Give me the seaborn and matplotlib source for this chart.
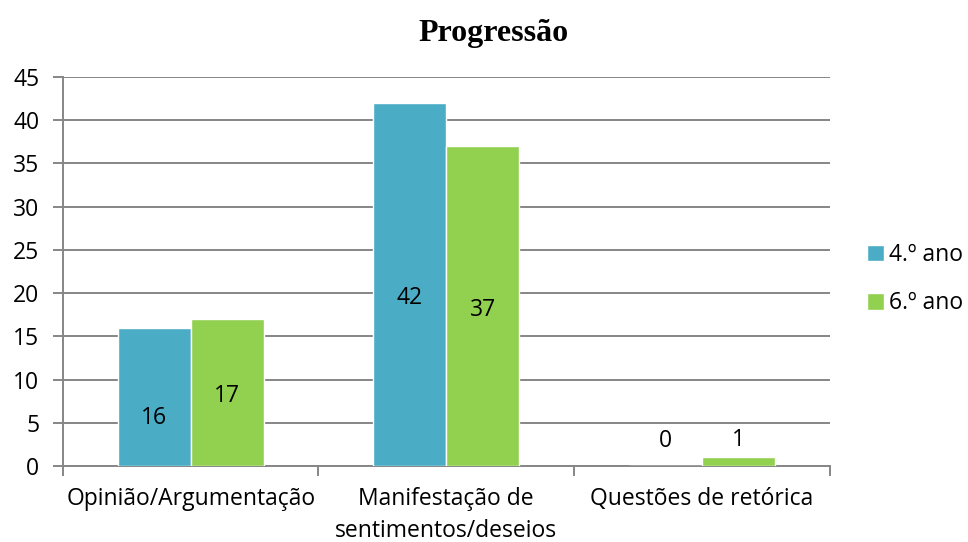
import numpy as np
import pandas as pd
import seaborn as sns
import matplotlib.pyplot as plt

categorias = ["Opinião/Argumentação", "Manifestação de\nsentimentos/deseios", "Questões de retórica"]
ano4 = [16, 42, 0]
ano6 = [17, 37, 1]
series = ["4.º ano", "6.º ano"]
cores = ["#4BACC6", "#92D050"]

df = pd.DataFrame({
    "cat": categorias * 2,
    "valor": ano4 + ano6,
    "serie": [series[0]] * 3 + [series[1]] * 3,
})

sns.set_theme(style="white")
plt.rcParams["font.family"] = ["Open Sans", "DejaVu Sans"]
plt.rcParams["text.color"] = "black"
fs = 16.5

fig = plt.figure(figsize=(9.68, 5.42), dpi=100)
ax = fig.add_axes([0.065, 0.140, 0.792, 0.718])

sns.barplot(data=df, x="cat", y="valor", hue="serie", palette=cores,
            width=0.57, gap=0, saturation=1, ax=ax, zorder=3)

ax.set_ylim(0, 45)
ax.set_xlim(-0.5, 2.5)
ax.set_yticks(np.arange(0, 46, 5))
ax.yaxis.grid(True, color="#868686", linewidth=1.4, zorder=0)
ax.set_axisbelow(True)
ax.set_xlabel("")
ax.set_ylabel("")

for s in ["top", "right"]:
    ax.spines[s].set_visible(False)
for s in ["left", "bottom"]:
    ax.spines[s].set_color("#868686")
    ax.spines[s].set_linewidth(1.4)

ax.set_xticks([-0.5, 0.5, 1.5, 2.5], minor=False)
ax.set_xticklabels([])
ax.set_xticks([0, 1, 2], minor=True)
ax.set_xticklabels(categorias, minor=True, fontsize=fs, color="black", linespacing=1.45)
ax.tick_params(axis="x", which="major", direction="out", length=7, width=1.4, color="#868686")
ax.tick_params(axis="x", which="minor", length=0, pad=15)
ax.tick_params(axis="y", direction="out", length=7, width=1.4, color="#868686", labelsize=fs, labelcolor="black", pad=10)
ax.tick_params(left=True, bottom=True)

# deslocamento vertical (px) dos rótulos, como no original
desloc = [[-21, -13, 25], [-3, -4, 17]]
for i, cont in enumerate(ax.containers):
    for j, bar in enumerate(cont):
        h = bar.get_height()
        x = bar.get_x() + bar.get_width() / 2
        y = h / 2 if h >= 3 else h
        ax.annotate(f"{int(h)}", (x, y), xytext=(0, desloc[i][j] * 0.72), textcoords="offset points",
                    ha="center", va="center", fontsize=fs, color="black", zorder=5)

ax.legend(loc="center left", bbox_to_anchor=(1.022, 0.48), frameon=False, fontsize=fs,
          handlelength=0.72, handleheight=0.72, handletextpad=0.25, labelspacing=1.05)

fig.suptitle("Progressão", x=0.51, y=0.965, fontsize=23, fontweight="bold", family="Liberation Serif",
             color="black")

fig.savefig("out.png", dpi=100)
